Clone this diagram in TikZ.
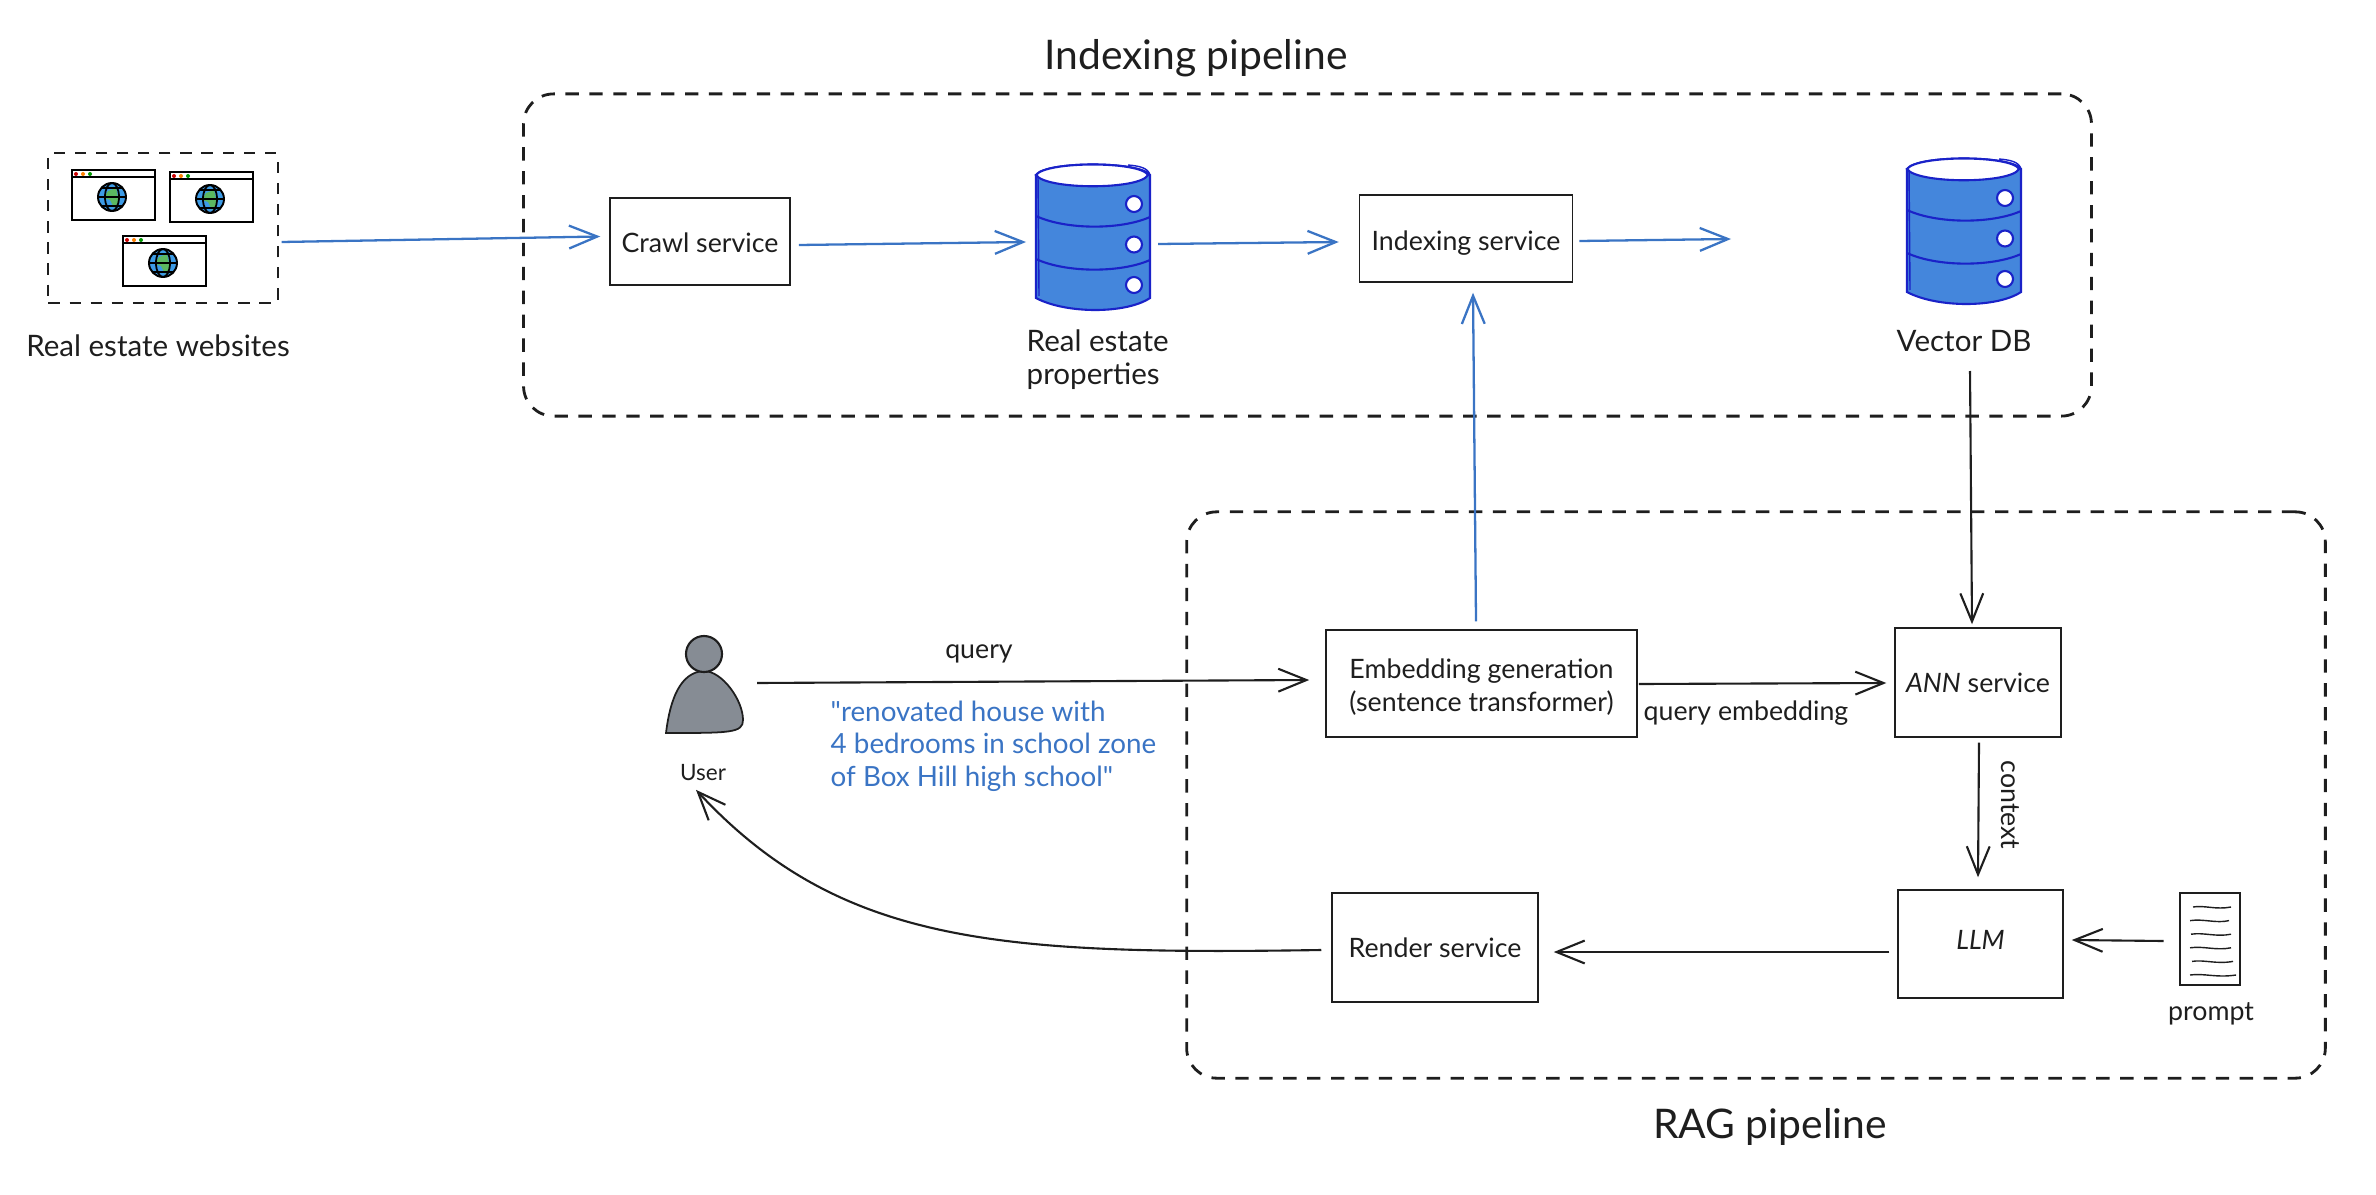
\documentclass[tikz,border=0pt]{standalone}
\usepackage{fontspec}
\setmainfont{Lato}
\newfontfamily\bluefamily{Lato}
\usetikzlibrary{arrows.meta}
\definecolor{colorInk}{HTML}{1E1E1E}
\definecolor{colorBlue}{HTML}{3A74C4}
\definecolor{colorDb}{HTML}{4486DC}
\definecolor{colorDbLine}{HTML}{1A22C8}
\definecolor{colorUser}{HTML}{868C94}
\definecolor{colorGlobe}{HTML}{3D9BE6}
\definecolor{colorLand}{HTML}{5CB860}
\newcommand\labelfont{\fontsize{7.6pt}{9.4pt}\selectfont}
\newcommand\capfont{\fontsize{8.4pt}{9.4pt}\selectfont}
\tikzset{
	service/.style={draw=colorInk, line width=0.4pt, text=colorInk, font=\labelfont, inner sep=0pt, align=left},
	pipeline/.style={draw=colorInk, dashed, dash pattern=on 3.8pt off 3pt, line width=0.8pt, rounded corners=0.3cm, inner sep=0pt},
	title/.style={text=colorInk, font=\fontsize{11.6pt}{13pt}\selectfont},
	caption/.style={text=colorInk, font=\capfont, align=left, inner sep=0pt},
	small/.style={text=colorInk, font=\labelfont, inner sep=0pt},
	bluearrow/.style={draw=colorBlue, line width=0.65pt, -{Straight Barb[length=8pt,width=6.5pt]}},
	inkarrow/.style={draw=colorInk, line width=0.6pt, -{Straight Barb[length=8pt,width=6.5pt]}},
	dbicon/.pic={
		\path[fill=colorDb] (0,10) -- (0,134) .. controls (30,150) and (90,150) .. (114,134) -- (114,10) -- cycle;
		\draw[colorDbLine, line width=0.6pt] (0,11) .. controls (10,-3) and (104,-3) .. (114,11) -- (114,134) .. controls (90,150) and (30,150) .. (0,134) -- cycle;
		\draw[colorDbLine, line width=0.6pt, fill=white] (0,11) .. controls (10,-3) and (104,-3) .. (112,11) .. controls (104,26) and (10,26) .. (0,11) -- cycle;
		\draw[colorDbLine, line width=0.4pt] (92,1) .. controls (104,2) and (112,4) .. (114,11);
		\draw[colorDbLine, line width=0.4pt] (2,12) -- (3,132);
		\foreach \i in {0,1}{
			\draw[colorDbLine, line width=0.6pt] (0,52+\i*43) .. controls (30,66+\i*43) and (85,66+\i*43) .. (114,53+\i*43);
		}
		\foreach \i in {0,1,2}{
			\draw[colorDbLine, line width=0.6pt, fill=white] (98,40+\i*40.5) circle (8);
		}
	},
	webwin/.pic={
		\draw[black, line width=0.55pt, fill=white] (0,0) rectangle (83,50);
		\draw[black, line width=0.55pt] (0,7) -- (83,7);
		\fill[red!80!black] (4,4) circle (2);
		\fill[orange] (11,4) circle (2);
		\fill[green!60!black] (18,4) circle (2);
		\fill[colorGlobe] (40,27) circle (14);
		\fill[colorLand] (36,21) -- (44,18) -- (47,32) -- (42,38) -- (38,30) -- (32,28) -- cycle;
		\draw[black, line width=0.55pt] (40,27) circle (14) (26,27) -- (54,27);
		\draw[black, line width=0.5pt] (40,27) ellipse (7 and 14);
		\draw[black, line width=0.4pt] (30,18) -- (50,18) (30,36) -- (50,36);
	}
}

\begin{document}
\begin{tikzpicture}[x=0.01cm, y=-0.01cm]
	\useasboundingbox (0,0) rectangle (2376,1194);

	% pipelines
	\node[pipeline, minimum width=15.67cm, minimum height=3.22cm] (indexbox) at (1307.5,255) {};
	\node[pipeline, minimum width=11.38cm, minimum height=5.66cm] (ragbox) at (1756,795) {};
	\node[title] (indextitle) at (1196,58) {Indexing pipeline};
	\node[title] (ragtitle) at (1770,1127) {RAG pipeline};

	% websites
	\node[draw=colorInk, dashed, dash pattern=on 3.2pt off 2.8pt, line width=0.55pt, minimum width=2.29cm, minimum height=1.49cm, inner sep=0pt] (sites) at (163,228) {};
	\foreach \wx/\wy in {72/170, 170/172, 123/236}{
		\pic at (\wx,\wy) {webwin};
	}
	\node[caption] (siteslabel) at (158,346) {Real estate websites};

	% services
	\node[service, minimum width=1.80cm, minimum height=0.87cm] (crawl) at (700,241.5) {\rule{0pt}{6.5pt}Crawl service};
	\node[service, minimum width=2.13cm, minimum height=0.87cm] (indexing) at (1466,238.5) {\rule{0pt}{8.2pt}Indexing service};
	\node[service, minimum width=3.11cm, minimum height=1.07cm] (embedding) at (1481.5,683.5) {\rule{0pt}{7.4pt}Embedding generation\\(sentence transformer)};
	\node[service, minimum width=1.66cm, minimum height=1.09cm] (ann) at (1978,682.5) {\textit{ANN} service};
	\node[service, minimum width=1.65cm, minimum height=1.08cm] (llm) at (1980.5,944) {\rule[-2.6pt]{0pt}{2.6pt}\textit{LLM}};
	\node[service, minimum width=2.06cm, minimum height=1.09cm] (render) at (1435,947.5) {Render service};

	% databases
	\pic at (1036,164) {dbicon};
	\coordinate (dbprop) at (1094,242);
	\node[caption, anchor=north west] (proplabel) at (1026,329) {Real estate\\properties};
	\pic at (1907,158) {dbicon};
	\coordinate (dbvec) at (1970,240);
	\node[caption] (veclabel) at (1964,341) {Vector DB};
	\coordinate (vecgap) at (1731,239);

	% user
	\fill[colorUser, draw=colorInk, line width=0.5pt] (666,733) .. controls (670,700) and (680,672) .. (704,671) .. controls (722,671) and (743,700) .. (743,720) .. controls (743,733) and (730,733) .. (666,733) -- cycle;
	\node[circle, draw=colorInk, fill=colorUser, line width=0.6pt, minimum size=0.36cm, inner sep=0pt] (userhead) at (704,654) {};
	\coordinate (userright) at (743,690);
	\node[small, font=\fontsize{6.4pt}{8pt}\selectfont] (userlabel) at (703,773) {User};

	% prompt
	\node[draw=colorInk, line width=0.8pt, minimum width=0.6cm, minimum height=0.92cm, inner sep=0pt] (prompt) at (2210,939) {};
	\foreach \i/\a/\b in {0/2193/2231, 1/2190/2229, 2/2191/2231, 3/2190/2231, 4/2192/2233, 5/2190/2236}{
		\draw[colorInk, line width=0.4pt] (\a,907+\i*13.6) .. controls (2204,905+\i*13.6) and (2216,910+\i*13.6) .. (\b,907+\i*13.6);
	}
	\node[small] (promptlabel) at (2211,1014) {prompt};

	% edge labels
	\node[small] (querylabel) at (979,654) {query};
	\node[caption, anchor=north west, text=colorBlue, font=\bluefamily\fontsize{7.9pt}{9.3pt}\selectfont] (querytext) at (830,700) {"renovated house with\\4 bedrooms in school zone\\of Box Hill high school"};
	\node[small] (embedlabel) at (1746,713) {query embedding};
	\node[small, rotate=-90] (contextlabel) at (2010,805) {context};

	% connectors
	\draw[bluearrow] ([shift={(3,14)}]sites.east) -- ([shift={(-9,-5)}]crawl.west);
	\draw[bluearrow] ([shift={(8,3.5)}]crawl.east) -- ([shift={(-68,0)}]dbprop);
	\draw[bluearrow] ([shift={(64,2)}]dbprop) -- ([shift={(-20,3.5)}]indexing.west);
	\draw[bluearrow] ([shift={(6,2.5)}]indexing.east) -- (vecgap);
	\draw[bluearrow] ([shift={(-5.5,-8)}]embedding.north) -- ([shift={(7,10)}]indexing.south);
	\draw[inkarrow] ([shift={(0,131)}]dbvec) -- ([shift={(-6,-3)}]ann.north);
	\draw[inkarrow] ([shift={(14,-7)}]userright) -- ([shift={(-16,-3.5)}]embedding.west);
	\draw[inkarrow] ([shift={(1,0.5)}]embedding.east) -- ([shift={(-8,0.5)}]ann.west);
	\draw[inkarrow] ([shift={(1,5)}]ann.south) -- ([shift={(-2.5,-12)}]llm.north);
	\draw[inkarrow] ([shift={(-15,2)}]prompt.west) -- ([shift={(8,-4)}]llm.east);
	\draw[inkarrow] ([shift={(-8,8)}]llm.west) -- ([shift={(15,4.5)}]render.east);
	\draw[inkarrow] ([shift={(-10,2.5)}]render.west) .. controls (1000,955) and (840,945) .. ([shift={(-7,8)}]userlabel.south);
\end{tikzpicture}
\end{document}
